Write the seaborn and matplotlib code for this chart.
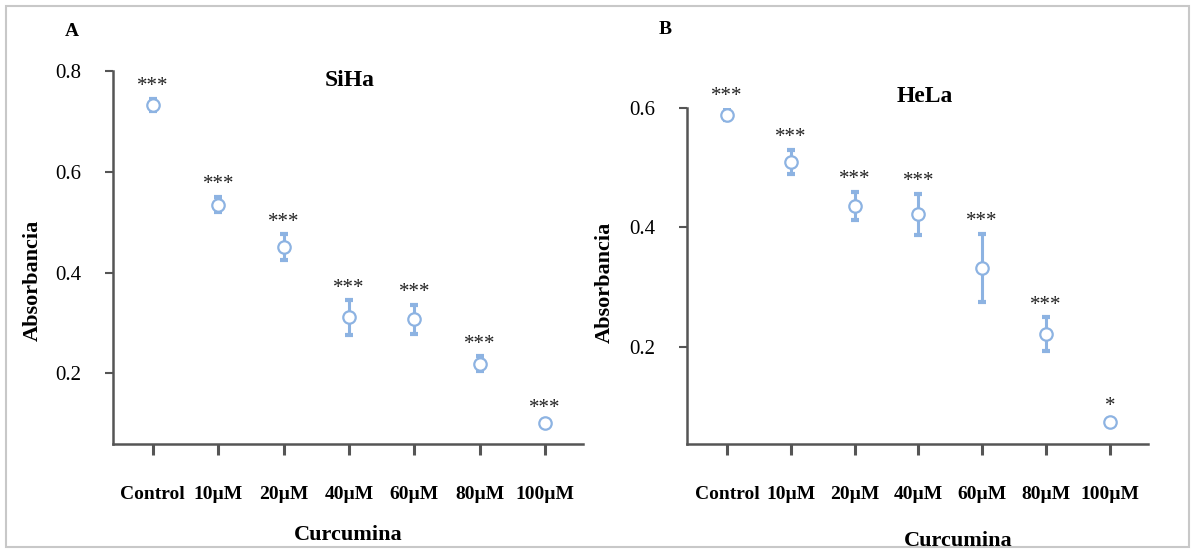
import matplotlib
matplotlib.use("Agg")
import matplotlib.pyplot as plt
import seaborn as sns
import pandas as pd
from matplotlib.patches import Rectangle

categories = ["Control", "10µM", "20µM", "40µM", "60µM", "80µM", "100µM"]
siha_mean = [0.733, 0.535, 0.451, 0.311, 0.307, 0.219, 0.102]
siha_err = [0.012, 0.015, 0.025, 0.034, 0.029, 0.015, 0.005]
siha_sig = ["***", "***", "***", "***", "***", "***", "***"]
hela_mean = [0.589, 0.510, 0.436, 0.422, 0.332, 0.221, 0.074]
hela_err = [0.0095, 0.020, 0.023, 0.034, 0.057, 0.028, 0.005]
hela_sig = ["***", "***", "***", "***", "***", "***", "*"]
siha_yticks = [0.2, 0.4, 0.6, 0.8]
hela_yticks = [0.2, 0.4, 0.6]

sns.set_theme(style="white")
plt.rcParams["font.family"] = ["Liberation Serif", "DejaVu Serif"]
plt.rcParams["text.color"] = "black"
plt.rcParams["xtick.color"] = "#555555"
plt.rcParams["ytick.color"] = "#555555"
plt.rcParams["xtick.labelcolor"] = "black"
plt.rcParams["ytick.labelcolor"] = "black"

BLUE = "#8db3e2"
AXC = "#555555"

fig = plt.figure(figsize=(11.95, 5.53), dpi=100)
fig.patch.set_facecolor("white")
fig.patches.append(Rectangle((6 / 1195, 6 / 553), 1 - 12 / 1195, 1 - 12 / 553,
                             transform=fig.transFigure, fill=False,
                             edgecolor="#c8c8c8", linewidth=1.5))

W, H = 1195, 553
ax1 = fig.add_axes([113 / W, 1 - 444 / H, (583 - 113) / W, (444 - 71) / H])
ax2 = fig.add_axes([687 / W, 1 - 444 / H, (1148 - 687) / W, (444 - 108) / H])


def panel(ax, mean, err, sig, yticks, ylim, xlim):
    df = pd.DataFrame({"cat": categories, "val": mean})
    ax.errorbar(categories, mean, yerr=err, fmt="none", ecolor=BLUE,
                elinewidth=2.2, capsize=3, capthick=3, zorder=2)
    sns.scatterplot(data=df, x="cat", y="val", ax=ax, marker="o", s=80,
                    facecolor="white", edgecolor=BLUE, linewidth=1.6, zorder=3)
    for i, (m, e, s) in enumerate(zip(mean, err, sig)):
        ax.annotate(s, (i, m + e), xytext=(0, 2), textcoords="offset points",
                    ha="center", va="bottom", fontsize=15, color="#222222",
                    annotation_clip=False)
    ax.set_ylim(*ylim)
    ax.set_xlim(*xlim)
    ax.set_yticks(yticks)
    ax.set_yticklabels([f"{t:.1f}" for t in yticks])
    ax.set_xlabel("")
    ax.set_ylabel("")
    for sp in ["top", "right"]:
        ax.spines[sp].set_visible(False)
    for sp in ["left", "bottom"]:
        ax.spines[sp].set_color(AXC)
        ax.spines[sp].set_linewidth(1.8)
    ax.tick_params(axis="x", which="major", bottom=True, direction="out", length=8, width=2.2,
                   color=AXC, pad=22, labelsize=14, labelcolor="black")
    ax.tick_params(axis="y", which="major", left=True, direction="out", length=6, width=1.5,
                   color=AXC, pad=17, labelsize=15, labelcolor="black")
    for lab in ax.get_xticklabels():
        lab.set_fontweight("bold")
    ax.set_facecolor("white")
    ax.grid(False)


panel(ax1, siha_mean, siha_err, siha_sig, siha_yticks, (0.06, 0.8), (-0.61, 6.58))
panel(ax2, hela_mean, hela_err, hela_sig, hela_yticks, (0.037, 0.6), (-0.63, 6.6))

fig.text(350 / W, 1 - 80 / H, "SiHa", ha="center", va="center", fontsize=17, fontweight="bold", color="black")
fig.text(925 / W, 1 - 97 / H, "HeLa", ha="center", va="center", fontsize=17, fontweight="bold", color="black")
fig.text(72 / W, 1 - 31 / H, "A", ha="center", va="center", fontsize=14, fontweight="bold", color="black")
fig.text(665 / W, 1 - 29 / H, "B", ha="center", va="center", fontsize=14, fontweight="bold", color="black")
fig.text(348 / W, 1 - 535 / H, "Curcumina", ha="center", va="center", fontsize=16, fontweight="bold", color="black")
fig.text(958 / W, 1 - 541 / H, "Curcumina", ha="center", va="center", fontsize=16, fontweight="bold", color="black")
fig.text(33 / W, 1 - 280 / H, "Absorbancia", ha="center", va="center", rotation=90,
         fontsize=16, fontweight="bold", color="black")
fig.text(605 / W, 1 - 282 / H, "Absorbancia", ha="center", va="center", rotation=90,
         fontsize=16, fontweight="bold", color="black")

fig.savefig("out.png", dpi=100, facecolor="white")
